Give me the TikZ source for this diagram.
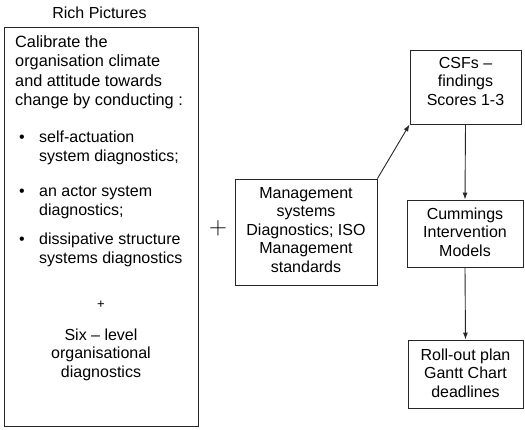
\documentclass[tikz,border=0pt]{standalone}
\usepackage{fontspec}
\setmainfont{Liberation Sans}
\usetikzlibrary{arrows.meta}
\newcommand\tlc[1]{\begin{tabular}[t]{@{}c@{}}#1\end{tabular}}
\newcommand\tll[1]{\begin{tabular}[t]{@{}l@{}}#1\end{tabular}}
\begin{document}
\begin{tikzpicture}[x=1pt,y=-1pt,
  box/.style={draw=black!85, line width=0.9pt, inner sep=0pt},
  txt/.style={inner sep=0pt, anchor=base, font=\fontsize{16}{18.5}\selectfont},
  txtl/.style={txt, anchor=base west},
  arr/.style={draw=black!85, line width=0.9pt, -{Latex[length=7pt,width=5pt]}}]
\useasboundingbox (0,0) rectangle (525,429);

% title
\node[txt] (title) at (99.5,18) {Rich Pictures};

% left box
\node[box, minimum width=194pt, minimum height=399pt] (left) at (101,226.5) {};
\node[txtl, font=\fontsize{16.3}{19.5}\selectfont] (intro) at (15,47)
  {\tll{Calibrate the\\organisation climate\\and attitude towards\\change by conducting :}};
\node[txt, font=\fontsize{16}{19}\selectfont] (b1) at (22,142) {\textbullet};
\node[txtl, font=\fontsize{16}{19}\selectfont] (i1) at (39,142) {\tll{self-actuation\\system diagnostics;}};
\node[txt, font=\fontsize{16}{19}\selectfont] (b2) at (22,196.5) {\textbullet};
\node[txtl, font=\fontsize{16}{19}\selectfont] (i2) at (39,196.5) {\tll{an actor system\\diagnostics;}};
\node[txt, font=\fontsize{16}{19}\selectfont] (b3) at (22,244) {\textbullet};
\node[txtl, font=\fontsize{16}{19}\selectfont] (i3) at (39,244) {\tll{dissipative structure\\systems diagnostics}};
\node[inner sep=0pt, font=\fontsize{13}{13}\selectfont] (plusl) at (101,305) {+};
\node[txt] (six) at (101,340) {\tlc{Six -- level\\organisational\\diagnostics}};

% big plus
\node[inner sep=0pt, font=\fontsize{26}{26}\selectfont] (plusm) at (218,228.5) {$+$};

% middle box
\node[box, minimum width=142pt, minimum height=106pt] (mid) at (306,232) {};
\node[txt] (midt) at (306,198) {\tlc{Management\\systems\\Diagnostics; ISO\\Management\\standards}};

% right column
\node[box, minimum width=111pt, minimum height=74pt] (csf) at (465.5,87) {};
\node[txt] (csft) at (465.5,68) {\tlc{CSFs --\\findings\\Scores 1-3}};
\node[box, minimum width=116pt, minimum height=67pt] (cum) at (465,233.5) {};
\node[txt] (cumt) at (465,219) {\tlc{Cummings\\Intervention\\Models}};
\node[box, minimum width=115pt, minimum height=68pt] (roll) at (465.5,374) {};
\node[txt] (rollt) at (465.5,360) {\tlc{Roll-out plan\\Gantt Chart\\deadlines}};

% connectors
\draw[arr] (mid.north east) -- (csf.south west);
\draw[arr] (csf.south) -- (cum.north);
\draw[arr] (cum.south) -- (roll.north);
\end{tikzpicture}
\end{document}
